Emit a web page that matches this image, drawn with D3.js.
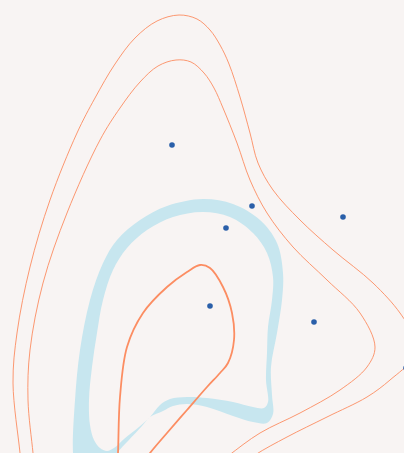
<!DOCTYPE html>
<html><head><meta charset="utf-8">
<script src="https://cdn.jsdelivr.net/npm/d3@7"></script>
<style>html,body{margin:0;padding:0;background:#f8f4f3;overflow:hidden}</style>
</head><body>
<script>
// Sample points
const pointsX = [172, 252, 226, 343, 210, 314, 406];
const pointsY = [145, 206, 228, 217, 306, 322, 368];

// Density contour lines (traced, in data coordinates)
const contourOuter = [[22,475],[20,453],[13,383],[17,333],[30,267],[50,200],[77,133],[95,98],[115,64],[135,38],[157,21],[179,15],[197,19],[210,30],[220,45],[229,64],[240,97],[250,133],[258,163],[273,190],[300,220],[333,250],[373,283],[400,313],[412,335],[412,358],[390,380],[367,397],[327,417],[287,437],[255,455],[235,470]];
const contourMiddle = [[35,475],[33,453],[28,400],[30,350],[43,283],[67,213],[100,140],[120,108],[140,82],[158,66],[176,60],[191,62],[204,73],[214,88],[223,108],[237,143],[250,180],[267,213],[293,247],[327,280],[360,313],[375,347],[367,367],[340,390],[300,413],[260,433],[228,456],[210,470]];
const contourInner = [[117,470],[118,453],[120,397],[127,347],[143,313],[167,287],[187,272],[200,265],[210,268],[223,287],[232,313],[234,340],[228,363],[220,373],[207,387],[187,410],[167,433],[150,453],[137,470]];

// Density band (between two levels): outer boundary and inner boundary
const bandOuter = [[150,417],[163,411],[173,406],[187,404],[207,407],[233,416],[253,422],[267,423],[273,414],[272,395],[271,367],[277,333],[282,300],[283,273],[277,243],[260,220],[233,204],[203,199],[167,206],[140,220],[117,240],[103,263],[90,300],[80,350],[75,400],[73,453],[76,472],[95,478],[112,465],[118,452],[128,441],[142,426]];
const bandInner = [[150,417],[160,405],[170,399],[187,397],[207,398],[233,402],[253,407],[264,408],[268,402],[266,380],[267,353],[268,327],[272,300],[273,277],[267,253],[253,233],[230,217],[203,212],[173,217],[147,230],[127,248],[113,270],[103,300],[97,333],[92,367],[89,400],[90,425],[94,440],[100,448],[107,451],[114,448],[124,439],[139,427]];

const W = 404, H = 453;
const x = d3.scaleLinear().domain([0, 404]).range([0, W]);
const y = d3.scaleLinear().domain([0, 453]).range([0, H]);

const svg = d3.select("body").append("svg").attr("width", W).attr("height", H)
  .style("display","block").style("background","#f8f4f3");

const lineOpen = d3.line().x(d => x(d[0])).y(d => y(d[1])).curve(d3.curveCatmullRom.alpha(0.5));
const lineClosed = d3.line().x(d => x(d[0])).y(d => y(d[1])).curve(d3.curveCatmullRomClosed.alpha(0.5));

svg.append("path")
  .attr("d", lineClosed(bandOuter) + lineClosed(bandInner))
  .attr("fill", "#c7e6ef").attr("fill-rule", "evenodd").attr("stroke", "none");

svg.append("path").attr("d", lineOpen(contourOuter))
  .attr("fill","none").attr("stroke","#fc8d62").attr("stroke-width",1).attr("stroke-opacity",0.9);
svg.append("path").attr("d", lineOpen(contourMiddle))
  .attr("fill","none").attr("stroke","#fc8d62").attr("stroke-width",1).attr("stroke-opacity",0.9);
svg.append("path").attr("d", lineOpen(contourInner))
  .attr("fill","none").attr("stroke","#fc8d62").attr("stroke-width",1.8);

svg.selectAll("circle").data(pointsX.map((v,i)=>[v,pointsY[i]])).join("circle")
  .attr("cx", d => x(d[0])).attr("cy", d => y(d[1])).attr("r", 2.8)
  .attr("fill", "#2a5fa9");
</script>
</body></html>
